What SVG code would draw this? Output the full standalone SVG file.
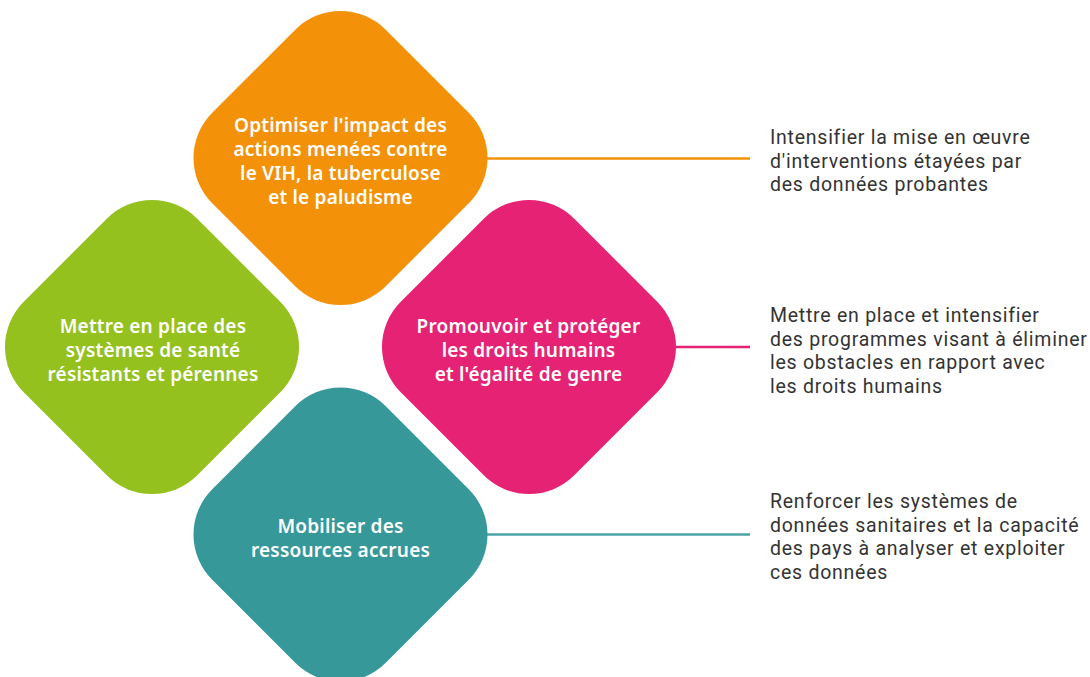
<svg xmlns="http://www.w3.org/2000/svg" width="1090" height="677" viewBox="0 0 1090 677">
  <style>
    .dia { stroke: none; }
    .ntext { font-family: "Noto Sans", "Liberation Sans", sans-serif; font-weight: 600; font-size: 19px; fill: #ffffff; text-anchor: middle; letter-spacing: 0.2px; }
    .dtext { font-family: Roboto, "Liberation Sans", sans-serif; font-weight: 400; font-size: 19.5px; fill: #333333; letter-spacing: 0.75px; }
    .conn { stroke-width: 2.5; fill: none; }
  </style>
  <rect width="1090" height="677" fill="#ffffff"/>
  <g id="connectors">
    <line class="conn" x1="480" y1="158.5" x2="750" y2="158.5" stroke="#F39208"/>
    <line class="conn" x1="670" y1="347" x2="750" y2="347" stroke="#E52274"/>
    <line class="conn" x1="480" y1="534.5" x2="750" y2="534.5" stroke="#4AA3A4"/>
  </g>
  <g id="node-orange">
    <rect class="dia" x="-122.7" y="-122.7" width="245.4" height="245.4" rx="64" fill="#F39208" transform="translate(340.5,158) rotate(45)"/>
    <text class="ntext" x="340.5" y="132">Optimiser l'impact des</text>
    <text class="ntext" x="340.5" y="156">actions menées contre</text>
    <text class="ntext" x="340.5" y="180">le VIH, la tuberculose</text>
    <text class="ntext" x="340.5" y="203.5">et le paludisme</text>
  </g>
  <g id="node-green">
    <rect class="dia" x="-122.7" y="-122.7" width="245.4" height="245.4" rx="64" fill="#95C11F" transform="translate(152,347) rotate(45)"/>
    <text class="ntext" x="153" y="333">Mettre en place des</text>
    <text class="ntext" x="153" y="357">systèmes de santé</text>
    <text class="ntext" x="153" y="381">résistants et pérennes</text>
  </g>
  <g id="node-pink">
    <rect class="dia" x="-122.7" y="-122.7" width="245.4" height="245.4" rx="64" fill="#E52274" transform="translate(529,347) rotate(45)"/>
    <text class="ntext" x="528.5" y="333">Promouvoir et protéger</text>
    <text class="ntext" x="528.5" y="357">les droits humains</text>
    <text class="ntext" x="528.5" y="381">et l'égalité de genre</text>
  </g>
  <g id="node-teal">
    <rect class="dia" x="-122.7" y="-122.7" width="245.4" height="245.4" rx="64" fill="#369899" transform="translate(340.5,534.5) rotate(45)"/>
    <text class="ntext" x="340.5" y="533">Mobiliser des</text>
    <text class="ntext" x="340.5" y="556.5">ressources accrues</text>
  </g>
  <g id="desc-orange">
    <text class="dtext" x="770" y="144">Intensifier la mise en œuvre</text>
    <text class="dtext" x="770" y="167.5">d'interventions étayées par</text>
    <text class="dtext" x="770" y="191">des données probantes</text>
  </g>
  <g id="desc-pink">
    <text class="dtext" x="770" y="322">Mettre en place et intensifier</text>
    <text class="dtext" x="770" y="345.5">des programmes visant à éliminer</text>
    <text class="dtext" x="770" y="369">les obstacles en rapport avec</text>
    <text class="dtext" x="770" y="392.5">les droits humains</text>
  </g>
  <g id="desc-teal">
    <text class="dtext" x="770" y="508">Renforcer les systèmes de</text>
    <text class="dtext" x="770" y="531.5">données sanitaires et la capacité</text>
    <text class="dtext" x="770" y="555">des pays à analyser et exploiter</text>
    <text class="dtext" x="770" y="578.5">ces données</text>
  </g>
</svg>
